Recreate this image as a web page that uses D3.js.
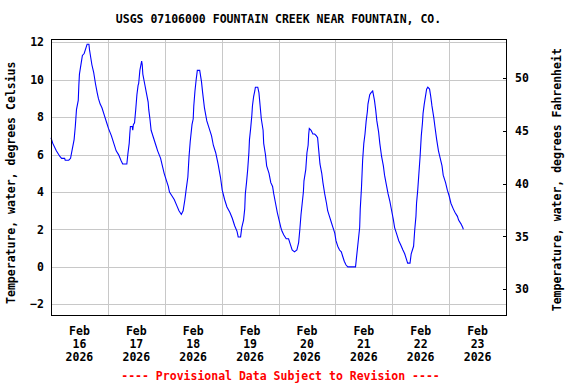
<!DOCTYPE html>
<html>
<head>
<meta charset="utf-8">
<script src="https://cdn.jsdelivr.net/npm/d3@7"></script>
<style>
  body { margin: 0; background: #fff; }
  text { font-family: "DejaVu Sans Mono", monospace; font-weight: bold; font-size: 11.5px; }
</style>
</head>
<body>
<div id="chart"></div>
<script>
const title = "USGS 07106000 FOUNTAIN CREEK NEAR FOUNTAIN, CO.";
const leftLabel = "Temperature, water, degrees Celsius";
const rightLabel = "Temperature, water, degrees Fahrenheit";
const footer = "---- Provisional Data Subject to Revision ----";

const celsiusTicks = [-2, 0, 2, 4, 6, 8, 10, 12];
const fahrenheitTicks = [30, 35, 40, 45, 50];
const dayTicks = ["2026-02-16", "2026-02-17", "2026-02-18", "2026-02-19",
  "2026-02-20", "2026-02-21", "2026-02-22", "2026-02-23"];

const times = [
  "2026-02-16 00:00", "2026-02-16 00:45", "2026-02-16 02:15", "2026-02-16 03:45", "2026-02-16 04:30",
  "2026-02-16 05:45", "2026-02-16 06:00", "2026-02-16 07:30", "2026-02-16 08:15", "2026-02-16 09:00",
  "2026-02-16 09:45", "2026-02-16 10:15", "2026-02-16 10:45", "2026-02-16 11:30", "2026-02-16 11:45",
  "2026-02-16 12:00", "2026-02-16 12:45", "2026-02-16 13:15", "2026-02-16 14:00", "2026-02-16 14:45",
  "2026-02-16 15:15", "2026-02-16 16:00", "2026-02-16 16:15", "2026-02-16 16:45", "2026-02-16 17:15",
  "2026-02-16 18:00", "2026-02-16 18:45", "2026-02-16 19:30", "2026-02-16 20:00", "2026-02-16 20:45",
  "2026-02-16 21:30", "2026-02-16 22:45", "2026-02-16 23:30",
  "2026-02-17 00:15", "2026-02-17 01:30", "2026-02-17 02:30", "2026-02-17 03:30", "2026-02-17 04:30",
  "2026-02-17 05:30", "2026-02-17 06:15", "2026-02-17 07:00", "2026-02-17 08:00", "2026-02-17 08:30",
  "2026-02-17 09:00", "2026-02-17 09:15", "2026-02-17 09:30", "2026-02-17 10:15", "2026-02-17 10:30",
  "2026-02-17 10:45", "2026-02-17 11:15", "2026-02-17 11:45", "2026-02-17 12:15", "2026-02-17 12:45",
  "2026-02-17 13:00", "2026-02-17 13:30", "2026-02-17 14:15", "2026-02-17 14:30", "2026-02-17 14:45",
  "2026-02-17 15:30", "2026-02-17 16:15", "2026-02-17 17:00", "2026-02-17 17:15", "2026-02-17 17:45",
  "2026-02-17 18:15", "2026-02-17 19:15", "2026-02-17 20:15", "2026-02-17 21:00", "2026-02-17 22:15",
  "2026-02-17 23:00", "2026-02-17 23:45",
  "2026-02-18 00:45", "2026-02-18 01:30", "2026-02-18 02:00", "2026-02-18 03:00", "2026-02-18 04:00",
  "2026-02-18 05:00", "2026-02-18 06:00", "2026-02-18 07:00", "2026-02-18 07:45", "2026-02-18 08:30",
  "2026-02-18 09:00", "2026-02-18 09:45", "2026-02-18 10:15", "2026-02-18 10:45", "2026-02-18 11:30",
  "2026-02-18 12:00", "2026-02-18 12:15", "2026-02-18 12:45", "2026-02-18 13:15", "2026-02-18 13:45",
  "2026-02-18 14:45", "2026-02-18 15:30", "2026-02-18 16:00", "2026-02-18 16:45", "2026-02-18 17:45",
  "2026-02-18 18:45", "2026-02-18 19:45", "2026-02-18 20:30", "2026-02-18 21:30", "2026-02-18 22:30",
  "2026-02-18 23:30",
  "2026-02-19 00:15", "2026-02-19 01:15", "2026-02-19 02:15", "2026-02-19 03:30", "2026-02-19 04:30",
  "2026-02-19 05:30", "2026-02-19 06:30", "2026-02-19 07:00", "2026-02-19 08:00", "2026-02-19 08:30",
  "2026-02-19 09:15", "2026-02-19 09:45", "2026-02-19 10:00", "2026-02-19 10:30", "2026-02-19 11:00",
  "2026-02-19 11:30", "2026-02-19 11:45", "2026-02-19 12:15", "2026-02-19 12:45", "2026-02-19 13:00",
  "2026-02-19 13:30", "2026-02-19 14:00", "2026-02-19 14:15", "2026-02-19 15:15", "2026-02-19 15:45",
  "2026-02-19 16:15", "2026-02-19 16:45", "2026-02-19 17:30", "2026-02-19 17:45", "2026-02-19 18:30",
  "2026-02-19 19:00", "2026-02-19 20:00", "2026-02-19 20:45", "2026-02-19 21:30", "2026-02-19 22:00",
  "2026-02-19 22:45", "2026-02-19 23:30",
  "2026-02-20 00:15", "2026-02-20 01:00", "2026-02-20 01:30", "2026-02-20 02:15", "2026-02-20 03:15",
  "2026-02-20 04:15", "2026-02-20 05:00", "2026-02-20 05:45", "2026-02-20 06:45", "2026-02-20 07:45",
  "2026-02-20 08:30", "2026-02-20 09:00", "2026-02-20 09:30", "2026-02-20 10:00", "2026-02-20 10:30",
  "2026-02-20 10:45", "2026-02-20 11:30", "2026-02-20 12:00", "2026-02-20 12:30", "2026-02-20 12:45",
  "2026-02-20 13:00", "2026-02-20 13:45", "2026-02-20 14:30", "2026-02-20 15:15", "2026-02-20 16:00",
  "2026-02-20 16:30", "2026-02-20 17:00", "2026-02-20 17:30", "2026-02-20 18:15", "2026-02-20 18:45",
  "2026-02-20 19:30", "2026-02-20 20:15", "2026-02-20 20:45", "2026-02-20 21:30", "2026-02-20 22:15",
  "2026-02-20 23:00", "2026-02-20 23:45",
  "2026-02-21 00:15", "2026-02-21 01:00", "2026-02-21 01:45", "2026-02-21 02:30", "2026-02-21 03:15",
  "2026-02-21 03:45", "2026-02-21 04:30", "2026-02-21 05:15", "2026-02-21 08:30", "2026-02-21 09:00",
  "2026-02-21 09:45", "2026-02-21 10:15", "2026-02-21 10:30", "2026-02-21 11:00", "2026-02-21 11:30",
  "2026-02-21 12:00", "2026-02-21 12:30", "2026-02-21 13:00", "2026-02-21 13:30", "2026-02-21 13:45",
  "2026-02-21 14:30", "2026-02-21 15:00", "2026-02-21 15:45", "2026-02-21 16:30", "2026-02-21 17:00",
  "2026-02-21 17:30", "2026-02-21 18:15", "2026-02-21 18:45", "2026-02-21 19:30", "2026-02-21 20:15",
  "2026-02-21 20:45", "2026-02-21 21:30", "2026-02-21 22:15", "2026-02-21 23:00", "2026-02-21 23:45",
  "2026-02-22 00:30", "2026-02-22 01:00", "2026-02-22 01:45", "2026-02-22 02:45", "2026-02-22 03:30",
  "2026-02-22 04:30", "2026-02-22 05:15", "2026-02-22 06:00", "2026-02-22 06:30", "2026-02-22 07:30",
  "2026-02-22 08:00", "2026-02-22 09:00", "2026-02-22 09:30", "2026-02-22 10:00", "2026-02-22 10:15",
  "2026-02-22 10:45", "2026-02-22 11:15", "2026-02-22 11:45", "2026-02-22 12:15", "2026-02-22 12:45",
  "2026-02-22 13:00", "2026-02-22 13:30", "2026-02-22 14:00", "2026-02-22 14:30", "2026-02-22 15:00",
  "2026-02-22 15:45", "2026-02-22 16:15", "2026-02-22 16:45", "2026-02-22 17:30", "2026-02-22 18:00",
  "2026-02-22 18:45", "2026-02-22 19:30", "2026-02-22 20:15", "2026-02-22 21:00", "2026-02-22 21:30",
  "2026-02-22 22:30", "2026-02-22 23:15",
  "2026-02-23 00:00", "2026-02-23 00:45", "2026-02-23 01:45", "2026-02-23 02:30", "2026-02-23 03:30",
  "2026-02-23 04:00", "2026-02-23 05:00", "2026-02-23 05:45", "2026-02-23 06:00"
];

const tempC = [
  6.9, 6.6, 6.2, 5.9, 5.8,
  5.8, 5.7, 5.7, 5.8, 6.3,
  6.8, 7.5, 8.4, 8.9, 9.7,
  10.3, 10.9, 11.3, 11.4, 11.7,
  11.9, 11.9, 11.6, 11.2, 10.8,
  10.4, 9.8, 9.3, 9.0, 8.7,
  8.5, 8.0, 7.7,
  7.4, 7.0, 6.6, 6.2, 6.0,
  5.7, 5.5, 5.5, 5.5, 6.1,
  6.6, 7.1, 7.5, 7.5, 7.3,
  7.6, 7.7, 8.4, 9.2, 9.7,
  9.8, 10.5, 11.0, 10.8, 10.3,
  9.8, 9.3, 8.8, 8.4, 7.9,
  7.3, 6.9, 6.5, 6.2, 5.8,
  5.4, 5.0,
  4.6, 4.3, 4.0, 3.8, 3.6,
  3.3, 3.0, 2.8, 3.0, 3.6,
  4.1, 4.8, 5.9, 6.7, 7.6,
  7.9, 8.6, 9.4, 10.0, 10.5,
  10.5, 9.9, 9.3, 8.5, 7.8,
  7.4, 7.0, 6.5, 6.1, 5.5,
  4.8,
  4.1, 3.6, 3.2, 2.9, 2.6,
  2.2, 1.9, 1.6, 1.6, 2.1,
  2.5, 3.1, 3.9, 4.5, 5.2,
  6.1, 6.8, 7.4, 8.1, 8.6,
  9.1, 9.4, 9.6, 9.6, 9.3,
  8.6, 7.9, 7.3, 6.6, 6.0,
  5.4, 5.0, 4.5, 4.3, 3.9,
  3.4, 2.9,
  2.5, 2.1, 1.9, 1.7, 1.5,
  1.5, 1.2, 0.9, 0.8, 0.9,
  1.3, 2.0, 2.8, 3.4, 4.0,
  4.6, 5.2, 6.1, 6.5, 7.1,
  7.4, 7.3, 7.1, 7.1, 7.0,
  6.9, 6.2, 5.5, 5.0, 4.5,
  3.9, 3.4, 3.0, 2.7, 2.4,
  2.1, 1.8,
  1.4, 1.1, 0.9, 0.8, 0.5,
  0.3, 0.1, 0.0, 0.0, 0.6,
  1.5, 2.1, 3.1, 4.2, 5.7,
  6.6, 7.1, 7.8, 8.3, 8.7,
  9.2, 9.3, 9.4, 8.9, 8.4,
  7.8, 7.2, 6.6, 5.9, 5.4,
  4.9, 4.4, 3.9, 3.5, 3.0,
  2.5, 2.1, 1.8, 1.4, 1.2,
  0.9, 0.7, 0.4, 0.2, 0.2,
  0.7, 1.1, 2.0, 2.7, 3.4,
  4.1, 5.0, 5.9, 7.0, 7.7,
  8.2, 8.7, 9.1, 9.5, 9.6,
  9.5, 9.1, 8.6, 8.0, 7.5,
  6.8, 6.2, 5.8, 5.4, 4.9,
  4.5, 4.1,
  3.8, 3.4, 3.1, 2.9, 2.7,
  2.5, 2.3, 2.1, 2.0
];

const width = 576;
const height = 384;
const plot = { left: 51, right: 506, top: 39.5, bottom: 316 };

const parseTime = d3.timeParse("%Y-%m-%d %H:%M");
const parseDay = d3.timeParse("%Y-%m-%d");
const data = times.map((t, i) => ({ t: parseTime(t), v: tempC[i] }));
const days = dayTicks.map(parseDay);

const x = d3
  .scaleTime()
  .domain([parseDay("2026-02-16"), parseDay("2026-02-24")])
  .range([plot.left, plot.right]);
const y = d3.scaleLinear().domain([-2.625, 12.15]).range([plot.bottom, plot.top]);
const yF = d3.scaleLinear().domain([27.48, 53.61]).range([plot.bottom, plot.top]);

const svg = d3
  .select("#chart")
  .append("svg")
  .attr("width", width)
  .attr("height", height);

svg
  .append("text")
  .attr("x", (plot.left + plot.right) / 2)
  .attr("y", 23)
  .attr("text-anchor", "middle")
  .text(title);

// gridlines
const grid = svg.append("g").attr("stroke", "#c8c8c8").attr("shape-rendering", "crispEdges");
grid
  .selectAll("line.h")
  .data(celsiusTicks)
  .join("line")
  .attr("x1", plot.left)
  .attr("x2", plot.right)
  .attr("y1", d => Math.round(y(d)) + 0.5)
  .attr("y2", d => Math.round(y(d)) + 0.5);
grid
  .selectAll("line.v")
  .data(days.slice(1))
  .join("line")
  .attr("x1", d => Math.round(x(d)) + 0.5)
  .attr("x2", d => Math.round(x(d)) + 0.5)
  .attr("y1", plot.top)
  .attr("y2", plot.bottom);

// data line
const line = d3
  .line()
  .x(d => x(d.t))
  .y(d => y(d.v));
svg
  .append("path")
  .datum(data)
  .attr("fill", "none")
  .attr("stroke", "#0000ff")
  .attr("stroke-width", 1.1)
  .attr("d", line);

// frame
svg
  .append("rect")
  .attr("x", plot.left + 0.5)
  .attr("y", Math.round(plot.top) - 0.5)
  .attr("width", plot.right - plot.left)
  .attr("height", plot.bottom - Math.round(plot.top))
  .attr("fill", "none")
  .attr("stroke", "#000")
  .attr("shape-rendering", "crispEdges");

// left axis
const leftAxis = d3.axisLeft(y).tickValues(celsiusTicks).tickSize(0).tickPadding(7);
svg
  .append("g")
  .attr("transform", `translate(${plot.left},0)`)
  .call(leftAxis)
  .call(g => g.select(".domain").remove())
  .call(g => g.selectAll("text").attr("fill", "#000").style("font-family", null).style("font-size", null).attr("font-size", null).attr("font-family", null));

// right axis, Fahrenheit
const rightAxis = d3.axisLeft(yF).tickValues(fahrenheitTicks).tickSize(4).tickFormat("");
svg
  .append("g")
  .attr("transform", `translate(${plot.right + 0.5},0)`)
  .call(rightAxis)
  .call(g => g.select(".domain").remove())
  .call(g => g.selectAll("line").attr("shape-rendering", "crispEdges"));
svg
  .append("g")
  .selectAll("text")
  .data(fahrenheitTicks)
  .join("text")
  .attr("x", 515)
  .attr("y", d => yF(d))
  .attr("dy", "0.36em")
  .text(d => d);

// x axis labels, centred at noon
const fmtMon = d3.timeFormat("%b");
const fmtDay = d3.timeFormat("%d");
const fmtYear = d3.timeFormat("%Y");
const xLabels = svg
  .append("g")
  .selectAll("text")
  .data(days)
  .join("text")
  .attr("text-anchor", "middle")
  .attr("x", d => x(d3.timeHour.offset(d, 12)));
xLabels.append("tspan").attr("y", 335).attr("x", d => x(d3.timeHour.offset(d, 12))).text(fmtMon);
xLabels.append("tspan").attr("y", 348).attr("x", d => x(d3.timeHour.offset(d, 12))).text(fmtDay);
xLabels.append("tspan").attr("y", 361).attr("x", d => x(d3.timeHour.offset(d, 12))).text(fmtYear);

// axis titles
svg
  .append("text")
  .attr("transform", `translate(15,${(plot.top + plot.bottom) / 2 + 5}) rotate(-90)`)
  .attr("text-anchor", "middle")
  .text(leftLabel);
svg
  .append("text")
  .attr("transform", `translate(561,${(plot.top + plot.bottom) / 2 + 2}) rotate(-90)`)
  .attr("text-anchor", "middle")
  .text(rightLabel);

svg
  .append("text")
  .attr("x", (plot.left + plot.right) / 2 + 2)
  .attr("y", 380)
  .attr("text-anchor", "middle")
  .attr("fill", "#ff0000")
  .text(footer);
</script>
</body>
</html>
